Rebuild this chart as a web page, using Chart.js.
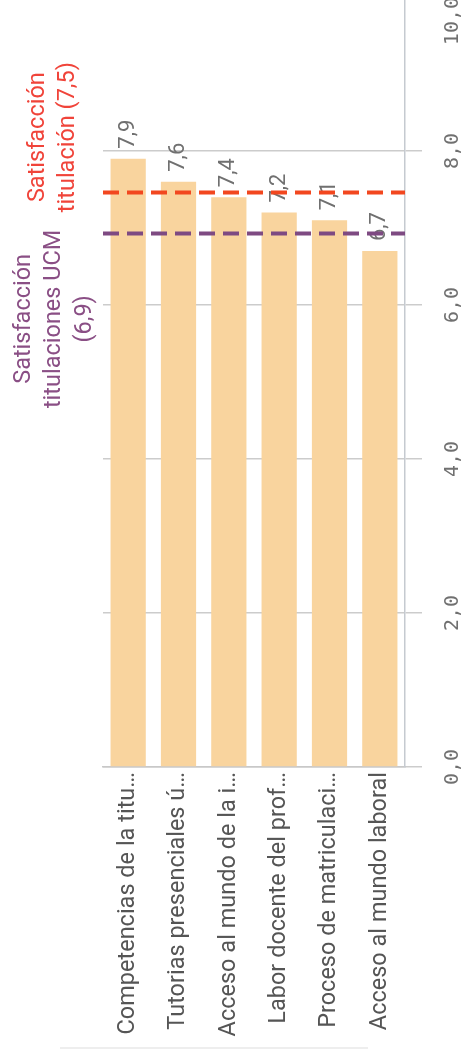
<!DOCTYPE html>
<html>
<head>
<meta charset="utf-8">
<script src="https://cdn.jsdelivr.net/npm/chart.js@4"></script>
<style>
	html, body { margin: 0; padding: 0; background: #fff; overflow: hidden; }
	#wrap { position: absolute; left: 0; top: -30px; width: 466px; height: 1080px; }
	#foot { position: absolute; left: 60px; top: 1047px; width: 308px; height: 0; border-top: 2px solid #eeeeee; }
</style>
</head>
<body>
<div id="wrap"><canvas id="chart"></canvas></div>
<div id="foot"></div>
<script>
const categories = [
	"Competencias de la titu…",
	"Tutorias presenciales ú…",
	"Acceso al mundo de la i…",
	"Labor docente del prof…",
	"Proceso de matriculaci…",
	"Acceso al mundo laboral"
];
const scores = [7.9, 7.6, 7.4, 7.2, 7.1, 6.7];
const yTicks = [0, 2, 4, 6, 8, 10];
const refValues = [7.46, 6.93];
const refTitles = [
	["Satisfacción", "titulación (7,5)"],
	["Satisfacción", "titulaciones UCM", "(6,9)"]
];
const refColors = ["#f2471f", "#7e4a82"];
const refTextColors = ["#f0443a", "#8a4f85"];

function fmt(v) {
	return v.toFixed(1).replace(".", ",");
}

const overlay = {
	id: "overlay",
	afterDatasetsDraw(chart) {
		const ctx = chart.ctx;
		const area = chart.chartArea;
		const y = chart.scales.y;

		// value labels above the bars
		const meta = chart.getDatasetMeta(0);
		ctx.save();
		ctx.font = "22px Roboto";
		ctx.fillStyle = "#707070";
		ctx.textAlign = "left";
		ctx.textBaseline = "middle";
		meta.data.forEach(function (bar, i) {
			ctx.save();
			ctx.translate(bar.x, bar.y - 10);
			ctx.rotate(-Math.PI / 2);
			ctx.fillText(fmt(scores[i]), 0, 0);
			ctx.restore();
		});
		ctx.restore();

		// dashed reference lines
		refValues.forEach(function (v, k) {
			const py = y.getPixelForValue(v);
			ctx.save();
			ctx.strokeStyle = refColors[k];
			ctx.lineWidth = 4;
			ctx.setLineDash([16, 8]);
			ctx.beginPath();
			ctx.moveTo(area.left, py);
			ctx.lineTo(area.right, py);
			ctx.stroke();
			ctx.restore();
		});

		// reference labels, rotated, left of the plot
		const spots = [
			{ x: 38, y: y.getPixelForValue(8.18) },
			{ x: 24, y: y.getPixelForValue(5.82) }
		];
		refTitles.forEach(function (lines, k) {
			ctx.save();
			ctx.font = "23.5px Roboto";
			ctx.fillStyle = refTextColors[k];
			ctx.textAlign = "center";
			ctx.textBaseline = "middle";
			lines.forEach(function (line, j) {
				ctx.save();
				ctx.translate(spots[k].x + j * 30.5, spots[k].y);
				ctx.rotate(-Math.PI / 2);
				ctx.fillText(line, 0, 0);
				ctx.restore();
			});
			ctx.restore();
		});
	}
};

new Chart(document.getElementById("chart"), {
	type: "bar",
	data: {
		labels: categories,
		datasets: [{
			data: scores,
			backgroundColor: "#f9d49e",
			categoryPercentage: 1,
			barPercentage: 0.7
		}]
	},
	options: {
		responsive: true,
		maintainAspectRatio: false,
		animation: false,
		layout: { padding: { left: 103, top: 27, right: 0, bottom: 0 } },
		plugins: { legend: { display: false }, tooltip: { enabled: false } },
		scales: {
			x: {
				grid: { display: false, drawTicks: false },
				border: { display: true, color: "#c8c8c8", width: 1.5 },
				ticks: {
					autoSkip: false,
					minRotation: 90,
					maxRotation: 90,
					padding: 5,
					color: "#555",
					font: { family: "Roboto", size: 23.5 }
				},
				afterFit: function (axis) { axis.height = 283; }
			},
			y: {
				position: "right",
				min: 0,
				max: 10,
				afterBuildTicks: function (axis) {
					axis.ticks = yTicks.map(function (v) { return { value: v }; });
				},
				grid: { color: "#cccccc", lineWidth: 1.5, tickLength: 17, drawTicks: true },
				border: { display: true, color: "#c5cad0", width: 1.5 },
				ticks: {
					minRotation: 90,
					maxRotation: 90,
					crossAlign: "center",
					padding: -17,
					color: "#707070",
					font: { family: "DejaVu Sans Mono", size: 20 },
					callback: function (v) {
						// keep the top label inside the picture
						return v === 10 ? fmt(v) + "\u00A0\u00A0\u00A0\u00A0" : fmt(v);
					}
				},
				afterFit: function (axis) { axis.width = 61; }
			}
		}
	},
	plugins: [overlay]
});
</script>
</body>
</html>
